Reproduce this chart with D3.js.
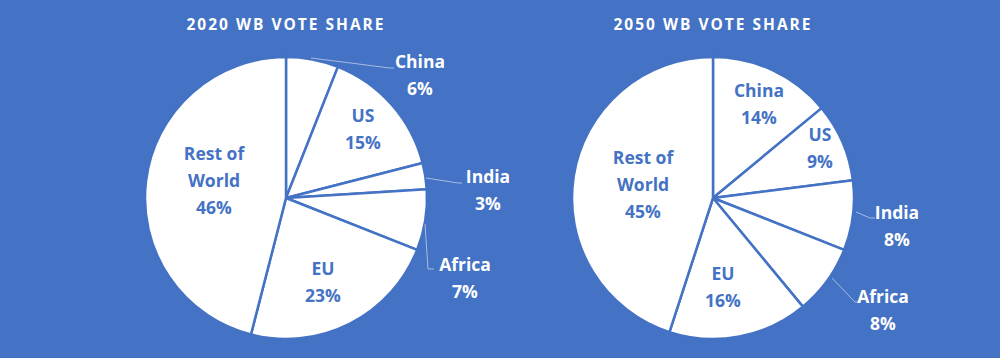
<!DOCTYPE html>
<html><head><meta charset="utf-8">
<script src="https://cdn.jsdelivr.net/npm/d3@7"></script>
<style>
html,body{margin:0;padding:0;background:#4472C4;}
svg{display:block;}
text{font-family:"Open Sans",sans-serif;font-weight:700;}
</style></head><body>
<svg id="chart" width="1000" height="358"></svg>
<script>
const categories = ["China","US","India","Africa","EU","Rest of World"];
const share2020 = [6,15,3,7,23,46];
const share2050 = [14,9,8,8,16,45];
const titles = ["2020 WB VOTE SHARE","2050 WB VOTE SHARE"];

// layout (label placement offsets from pie center, px) and outside flags
const labelLayout2020 = [
  {dx:134,dy:-123,out:true,leader:[[25,-140],[104,-130],[108,-130]]},
  {dx:77,dy:-69,out:false},
  {dx:202,dy:-8,out:true,leader:[[140,-20],[172,-15],[176,-15]]},
  {dx:179,dy:80,out:true,leader:[[139,26],[142,71],[148,71]]},
  {dx:37,dy:84,out:false},
  {dx:-72,dy:-17,out:false}
];
const labelLayout2050 = [
  {dx:46,dy:-94,out:false},
  {dx:107,dy:-50,out:false},
  {dx:184,dy:28,out:true,leader:[[143,14],[157,20],[162,20]]},
  {dx:170,dy:112,out:true,leader:[[119,80],[142,104],[147,104]]},
  {dx:10,dy:89,out:false},
  {dx:-70,dy:-13,out:false}
];

const BG = "#4472C4";
const svg = d3.select("#chart");
svg.append("rect").attr("width",1000).attr("height",358).attr("fill",BG);

const R = 141;
const pies = [
  {cx:286, cy:198, values:share2020, layout:labelLayout2020, title:titles[0]},
  {cx:713, cy:198, values:share2050, layout:labelLayout2050, title:titles[1]}
];

const pie = d3.pie().sort(null).value(d=>d);
const arc = d3.arc().innerRadius(0).outerRadius(R);
const lineH = 27;

pies.forEach(p=>{
  svg.append("text").attr("x",p.cx).attr("y",30).attr("text-anchor","middle")
    .attr("fill","#fff").attr("font-size",15.5).attr("letter-spacing","2px")
    .attr("font-weight",600)
    .text(p.title);
  const g = svg.append("g").attr("transform",`translate(${p.cx},${p.cy})`);
  const arcs = pie(p.values);
  g.selectAll("path").data(arcs).join("path")
    .attr("d",arc).attr("fill","#fff").attr("stroke",BG).attr("stroke-width",2.5)
    .attr("stroke-linejoin","round");
  arcs.forEach((a,i)=>{
    const L = p.layout[i];
    if(L.out && L.leader){
      g.append("path").attr("d",d3.line()(L.leader)).attr("fill","none")
        .attr("stroke","#A6BBE3").attr("stroke-width",1);
    }
    const words = categories[i]==="Rest of World" ? ["Rest of","World"] : [categories[i]];
    const lines = words.concat([p.values[i]+"%"]);
    const t = g.append("text").attr("text-anchor","middle")
      .attr("fill", L.out ? "#fff" : BG).attr("font-size",17.5);
    const y0 = L.dy - (lines.length-1)*lineH/2 + 6;
    lines.forEach((s,k)=>{
      t.append("tspan").attr("x",L.dx).attr("y",y0+k*lineH).text(s);
    });
  });
});
</script>
</body></html>
